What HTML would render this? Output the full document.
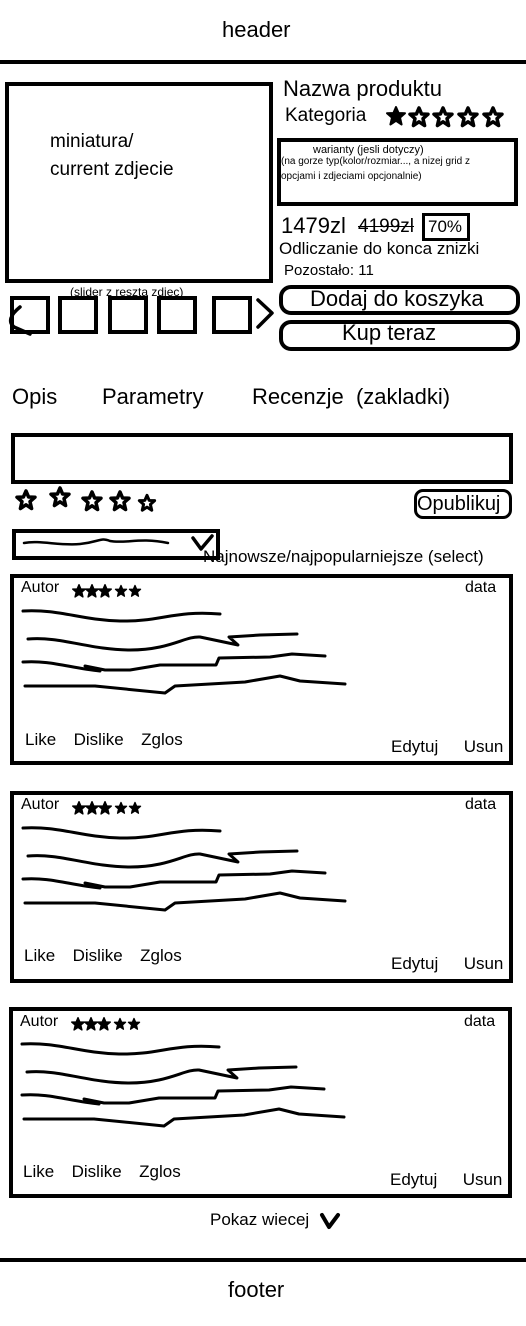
<!DOCTYPE html>
<html><head><meta charset="utf-8"><style>
body{margin:0;width:526px;height:1326px;position:relative;background:#fff;font-family:"Liberation Sans","DejaVu Sans",sans-serif;color:#000;overflow:hidden}
.t{position:absolute;white-space:nowrap;line-height:1}
.b{position:absolute;border:4px solid #000;box-sizing:border-box}
.ld{font-size:17px;word-spacing:4px}
.eu{font-size:17px;word-spacing:8px}
</style></head><body>
<div class="t" style="left:222px;top:19px;font-size:22px">header</div>
<div style="position:absolute;left:0;top:60px;width:526px;height:4px;background:#000"></div>

<div class="b" style="left:5px;top:82px;width:268px;height:201px"></div>
<div class="t" style="left:50px;top:128px;font-size:19px;line-height:28px">miniatura/<br>current zdjecie</div>

<div class="t" style="left:283px;top:78px;font-size:22px">Nazwa produktu</div>
<div class="t" style="left:285px;top:106px;font-size:19px">Kategoria</div>

<div class="b" style="left:277px;top:138px;width:241px;height:68px"></div>
<div class="t" style="left:313px;top:145px;font-size:11px">warianty (jesli dotyczy)</div>
<div class="t" style="left:281px;top:154px;font-size:10px;line-height:15px">(na gorze typ(kolor/rozmiar..., a nizej grid z<br>opcjami i zdjeciami opcjonalnie)</div>

<div class="t" style="left:281px;top:215px;font-size:22px">1479zl</div>
<div class="t" style="left:358px;top:217px;font-size:19px;text-decoration:line-through">4199zl</div>
<div class="b" style="left:422px;top:213px;width:48px;height:28px;border-width:3px"></div>
<div class="t" style="left:428px;top:218px;font-size:17px">70%</div>
<div class="t" style="left:279px;top:240px;font-size:17px">Odliczanie do konca znizki</div>
<div class="t" style="left:284px;top:263px;font-size:15px">Pozostało: 11</div>

<div class="b" style="left:279px;top:285px;width:241px;height:30px;border-radius:12px"></div>
<div class="t" style="left:310px;top:288px;font-size:22px">Dodaj do koszyka</div>
<div class="b" style="left:279px;top:320px;width:241px;height:31px;border-radius:12px"></div>
<div class="t" style="left:342px;top:322px;font-size:22px">Kup teraz</div>

<div class="t" style="left:70px;top:286px;font-size:12px">(slider z reszta zdjec)</div>
<div class="b" style="left:10px;top:296px;width:40px;height:38px"></div>
<div class="b" style="left:58px;top:296px;width:40px;height:38px"></div>
<div class="b" style="left:108px;top:296px;width:40px;height:38px"></div>
<div class="b" style="left:157px;top:296px;width:40px;height:38px"></div>
<div class="b" style="left:212px;top:296px;width:40px;height:38px"></div>

<div class="t" style="left:12px;top:386px;font-size:22px">Opis</div>
<div class="t" style="left:102px;top:386px;font-size:22px">Parametry</div>
<div class="t" style="left:252px;top:386px;font-size:22px">Recenzje &nbsp;(zakladki)</div>

<div class="b" style="left:11px;top:433px;width:502px;height:51px"></div>
<div class="b" style="left:414px;top:489px;width:98px;height:30px;border-radius:9px;border-width:3px;overflow:hidden"><div class="t" style="left:0;top:2px;font-size:20px">Opublikuj</div></div>
<div class="b" style="left:12px;top:529px;width:208px;height:31px"></div>
<div class="t" style="left:203px;top:548px;font-size:17px">Najnowsze/najpopularniejsze (select)</div>

<div class="b" style="left:10px;top:574px;width:503px;height:191px"></div>
<div class="b" style="left:10px;top:791px;width:503px;height:192px"></div>
<div class="b" style="left:9px;top:1007px;width:503px;height:191px"></div>

<div class="t" style="left:21px;top:580px;font-size:16px">Autor</div><div class="t" style="left:465px;top:580px;font-size:16px">data</div>
<div class="t ld" style="left:25px;top:731px">Like &nbsp;Dislike &nbsp;Zglos</div><div class="t eu" style="left:391px;top:738px">Edytuj &nbsp;Usun</div>
<div class="t" style="left:21px;top:797px;font-size:16px">Autor</div><div class="t" style="left:465px;top:797px;font-size:16px">data</div>
<div class="t ld" style="left:24px;top:947px">Like &nbsp;Dislike &nbsp;Zglos</div><div class="t eu" style="left:391px;top:955px">Edytuj &nbsp;Usun</div>
<div class="t" style="left:20px;top:1014px;font-size:16px">Autor</div><div class="t" style="left:464px;top:1014px;font-size:16px">data</div>
<div class="t ld" style="left:23px;top:1163px">Like &nbsp;Dislike &nbsp;Zglos</div><div class="t eu" style="left:390px;top:1171px">Edytuj &nbsp;Usun</div>

<div class="t" style="left:210px;top:1211px;font-size:17px">Pokaz wiecej</div>
<div style="position:absolute;left:0;top:1258px;width:526px;height:4px;background:#000"></div>
<div class="t" style="left:228px;top:1279px;font-size:22px">footer</div>

<svg width="526" height="1326" style="position:absolute;left:0;top:0" fill="none" stroke="#000" stroke-linecap="round" stroke-linejoin="round">
<defs>
<polygon id="st" points="0,-9 2.6,-3 9,-2.8 4,1.6 5.6,8.5 0,4.8 -5.6,8.5 -4,1.6 -9,-2.8 -2.6,-3"/>
<g id="sq" stroke-width="3">
<path d="M23,611 C60,609 80,620 120,621 S175,610 220,614"/>
<path d="M28,639 C60,636 90,650 130,650 S185,636 200,637 L238,645 L229,637 L260,635 L297,634"/>
<path d="M23,662 C50,660 70,668 100,671 L85,666 L105,670 L130,670 L160,665 L216,665 L219,658 L270,657 L292,654 L325,656"/>
<path d="M25,686 L95,686 L165,693 L175,686 L245,682 L280,676 L300,681 L345,684"/>
</g>
<g id="rs" fill="#000" stroke="#000" stroke-width="2">
<use href="#st" transform="translate(79,591) scale(.7)"/><use href="#st" transform="translate(92,591) scale(.7)"/><use href="#st" transform="translate(105,591) scale(.7)"/><use href="#st" transform="translate(121,591) scale(.62)"/><use href="#st" transform="translate(135,591) scale(.62)"/>
</g>
</defs>
<use href="#sq"/><use href="#sq" transform="translate(0,217)"/><use href="#sq" transform="translate(-1,433)"/>
<use href="#rs"/><use href="#rs" transform="translate(0,217)"/><use href="#rs" transform="translate(-1,433)"/>
<g stroke-width="3.5">
<use href="#st" transform="translate(396,116)" fill="#000" stroke-width="2"/>
<use href="#st" transform="translate(419,117)"/><use href="#st" transform="translate(443,117)"/><use href="#st" transform="translate(468,117)"/><use href="#st" transform="translate(493,117)"/>
<use href="#st" transform="translate(26,500)"/><use href="#st" transform="translate(60,497)"/><use href="#st" transform="translate(92,501)"/><use href="#st" transform="translate(120,501)"/><use href="#st" transform="translate(147,503) scale(.85)"/>
</g>
<path d="M20,307 C10,315 8,322 14,327 L30,334" stroke-width="3.5"/>
<path d="M258,300 L272,313 L258,327" stroke-width="3.5"/>
<path d="M24,543 C40,540 60,546 80,544 S100,537 110,541 C125,544 140,537 168,543" stroke-width="2.5"/>
<path d="M193,538 L201,549 L212,536" stroke-width="3.5"/>
<path d="M322,1215 L329,1227 L338,1215" stroke-width="4"/>
</svg>
</body></html>
